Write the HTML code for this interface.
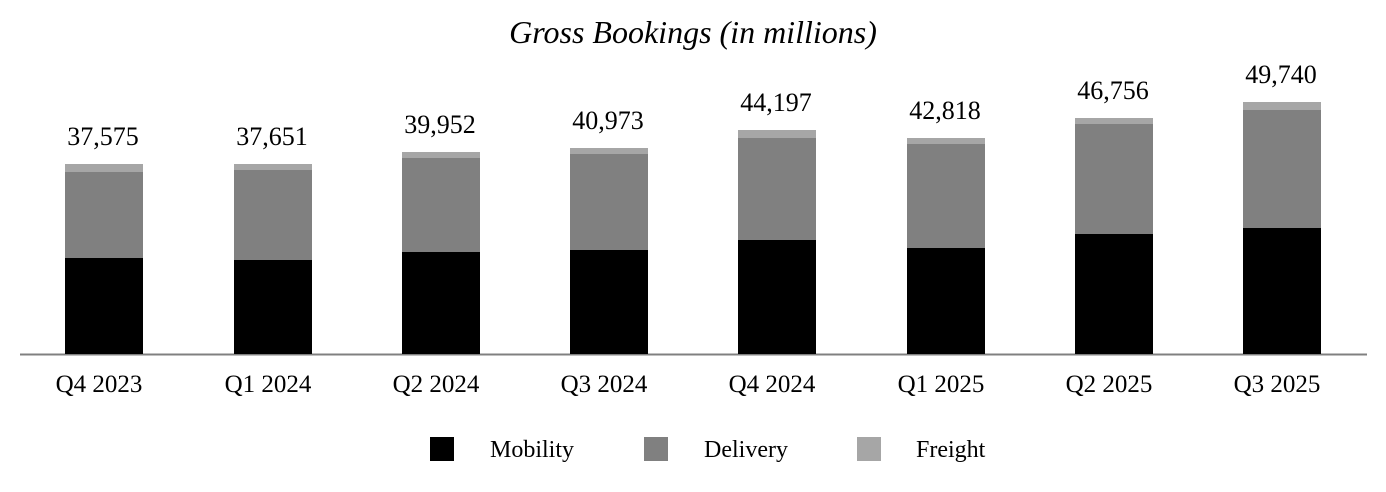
<!DOCTYPE html>
<html><head><meta charset="utf-8"><style>
html,body{margin:0;padding:0;background:#fff;}
svg{display:block;font-family:"Liberation Serif",serif;}
</style></head><body>
<svg width="1386" height="492" viewBox="0 0 1386 492">
<text x="693" y="43" text-anchor="middle" font-size="32" font-style="italic">Gross Bookings (in millions)</text>
<line x1="20" y1="354.5" x2="1367" y2="354.5" stroke="#808080" stroke-width="2"/>
<rect x="430" y="437" width="24" height="24" fill="#000"/>
<text x="490" y="457" font-size="24">Mobility</text>
<rect x="644" y="437" width="24" height="24" fill="#808080"/>
<text x="704" y="457" font-size="24">Delivery</text>
<rect x="857" y="437" width="24" height="24" fill="#a6a6a6"/>
<text x="916" y="457" font-size="24">Freight</text>
<g font-size="26" text-anchor="middle">
<rect x="65" y="164" width="78" height="8" fill="#a6a6a6"/><rect x="65" y="172" width="78" height="86" fill="#808080"/><rect x="65" y="258" width="78" height="96" fill="#000"/><text x="103" y="145">37,575</text>
<rect x="234" y="164" width="78" height="6" fill="#a6a6a6"/><rect x="234" y="170" width="78" height="90" fill="#808080"/><rect x="234" y="260" width="78" height="94" fill="#000"/><text x="272" y="145">37,651</text>
<rect x="402" y="152" width="78" height="6" fill="#a6a6a6"/><rect x="402" y="158" width="78" height="94" fill="#808080"/><rect x="402" y="252" width="78" height="102" fill="#000"/><text x="440" y="133">39,952</text>
<rect x="570" y="148" width="78" height="6" fill="#a6a6a6"/><rect x="570" y="154" width="78" height="96" fill="#808080"/><rect x="570" y="250" width="78" height="104" fill="#000"/><text x="608" y="129">40,973</text>
<rect x="738" y="130" width="78" height="8" fill="#a6a6a6"/><rect x="738" y="138" width="78" height="102" fill="#808080"/><rect x="738" y="240" width="78" height="114" fill="#000"/><text x="776" y="111">44,197</text>
<rect x="907" y="138" width="78" height="6" fill="#a6a6a6"/><rect x="907" y="144" width="78" height="104" fill="#808080"/><rect x="907" y="248" width="78" height="106" fill="#000"/><text x="945" y="119">42,818</text>
<rect x="1075" y="118" width="78" height="6" fill="#a6a6a6"/><rect x="1075" y="124" width="78" height="110" fill="#808080"/><rect x="1075" y="234" width="78" height="120" fill="#000"/><text x="1113" y="99">46,756</text>
<rect x="1243" y="102" width="78" height="8" fill="#a6a6a6"/><rect x="1243" y="110" width="78" height="118" fill="#808080"/><rect x="1243" y="228" width="78" height="126" fill="#000"/><text x="1281" y="83">49,740</text>
</g>
<g font-size="25" text-anchor="middle">
<text x="99" y="392">Q4 2023</text><text x="268" y="392">Q1 2024</text><text x="436" y="392">Q2 2024</text><text x="604" y="392">Q3 2024</text>
<text x="772" y="392">Q4 2024</text><text x="941" y="392">Q1 2025</text><text x="1109" y="392">Q2 2025</text><text x="1277" y="392">Q3 2025</text>
</g>
</svg>
</body></html>
